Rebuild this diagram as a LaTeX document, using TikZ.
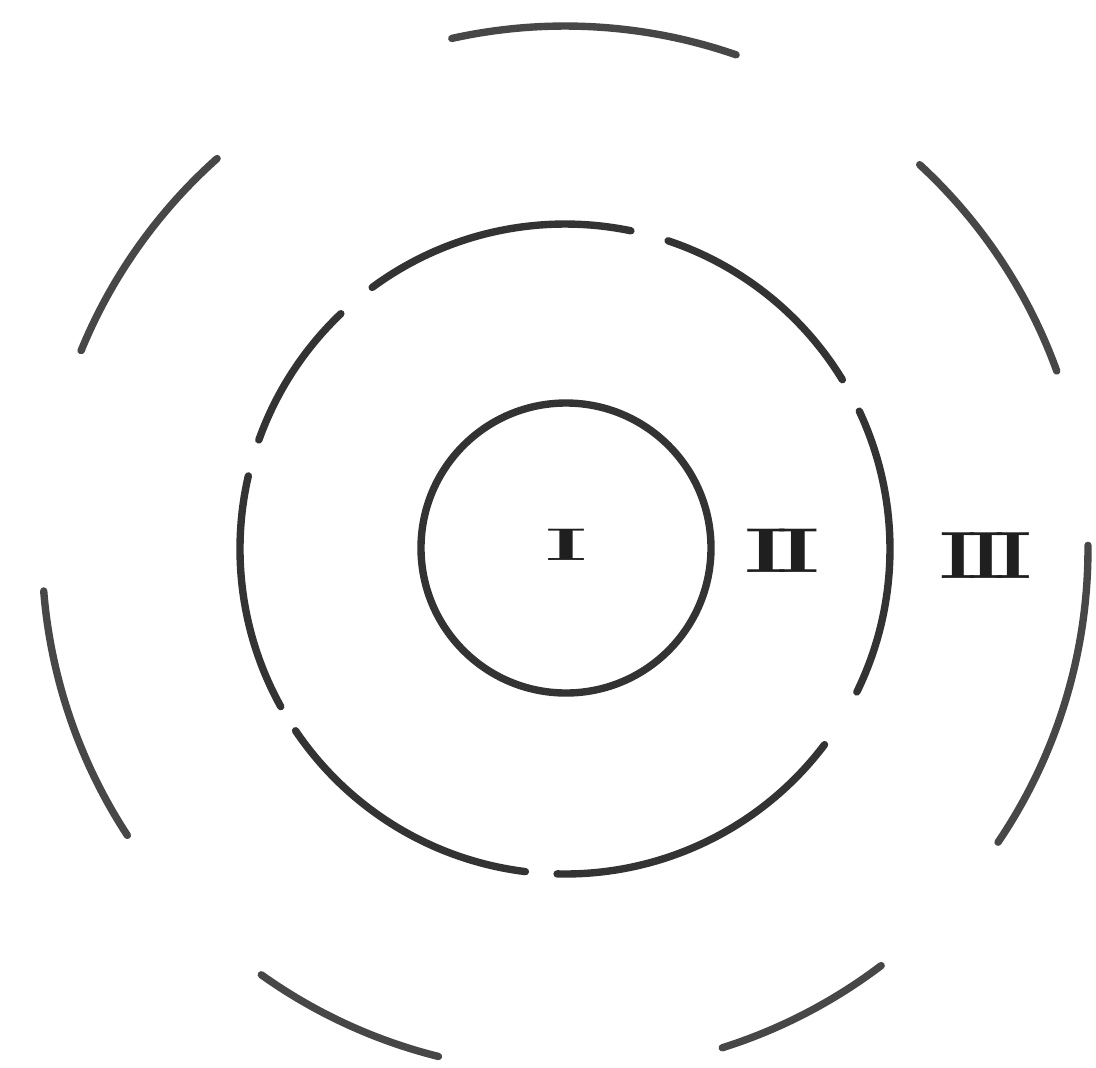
\documentclass[tikz,border=0pt]{standalone}
\usepackage{graphicx}
\begin{document}
\begin{tikzpicture}[
  ring/.style={line width=2.1pt, line cap=round, draw=black!80},
  outer/.style={line width=2.1pt, line cap=round, draw=black!72},
  numeral/.style={inner sep=0pt, text=black!88}
]
\useasboundingbox[fill=white] (0,0) rectangle (10.96,-10.67);
\coordinate (C) at (5.65,-5.49);
% inner circle
\draw[ring] (5.66,-5.48) circle[radius=1.45];
% middle dashed circle
\foreach \a/\b in {78.3/126.4, 31.4/71.5, -26.1/25.1, -91.4/-37, -146/-97, -193/-151, 133.6/160.4}{
  \draw[ring] (C) ++(\a:3.25) arc[start angle=\a, end angle=\b, radius=3.25];
}
% outer dashed circle
\foreach \a/\b in {70.9/102.5, 19.9/47.3, -34.1/0.4, -72.5/-52.8, -125.5/-104, -175.4/-146.8, 131.7/157.7}{
  \draw[outer] (C) ++(\a:5.23) arc[start angle=\a, end angle=\b, radius=5.23];
}
\node[numeral] (n1) at (5.67,-5.45) {\fontsize{13}{13}\selectfont\bfseries\scalebox{2.2}[1]{I}};
\node[numeral] (n2) at (7.82,-5.51) {\fontsize{18}{18}\selectfont\bfseries\scalebox{1.65}[1]{I\kern-2pt I}};
\node[numeral] (n3) at (9.86,-5.56) {\fontsize{19}{19}\selectfont\bfseries\scalebox{1.35}[1]{I\kern-2.2pt I\kern-2.2pt I}};
\end{tikzpicture}
\end{document}
